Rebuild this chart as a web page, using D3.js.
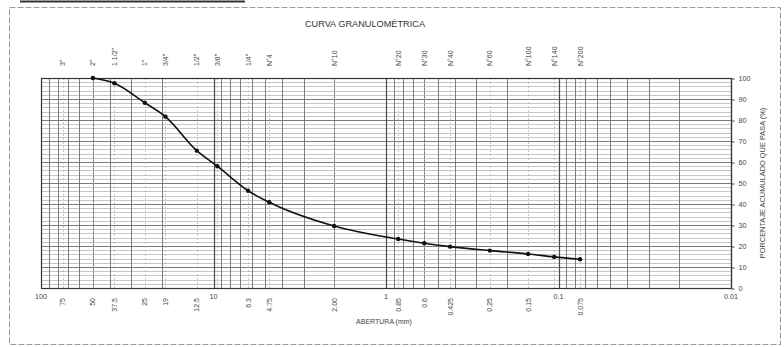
<!DOCTYPE html>
<html>
<head>
<meta charset="utf-8">
<script src="https://cdn.jsdelivr.net/npm/d3@7"></script>
<style>
  html, body { margin: 0; padding: 0; background: #fff; }
  svg { display: block; font-family: "Liberation Sans", Arial, sans-serif; }
</style>
</head>
<body>
<svg id="chart" width="784" height="347"></svg>
<script>
// Sieve series (ASTM) and the cumulative percentage passing each one
const sieveNames = ['3"', '2"', '1 1/2"', '1"', '3/4"', '1/2"', '3/8"', '1/4"', 'N°4', 'N°10',
                    'N°20', 'N°30', 'N°40', 'N°60', 'N°100', 'N°140', 'N°200'];
const sieveOpenings = [75, 50, 37.5, 25, 19, 12.5, 9.5, 6.3, 4.75, 2.00,
                       0.85, 0.6, 0.425, 0.25, 0.15, 0.106, 0.075];
const percentPassing = [null, 100, 97.5, 88.2, 81.6, 65.4, 58.0, 46.3, 40.8, 29.5,
                        23.3, 21.3, 19.7, 17.8, 16.2, 14.8, 13.7];

// Opening labels written under the axis
const openingTickValues = [75, 50, 37.5, 25, 19, 12.5, 6.3, 4.75, 2.00, 0.85, 0.6, 0.425, 0.25, 0.15, 0.075];
const openingTickText   = ['75', '50', '37.5', '25', '19', '12.5', '6.3', '4.75', '2.00', '0.85', '0.6', '0.425', '0.25', '0.15', '0.075'];
const decadeValues = [100, 10, 1, 0.1, 0.01];
const decadeText   = ['100', '10', '1', '0.1', '0.01'];
const percentTicks = [0, 10, 20, 30, 40, 50, 60, 70, 80, 90, 100];

const title = 'CURVA GRANULOMÉTRICA';
const xTitle = 'ABERTURA (mm)';
const yTitle = 'PORCENTAJE ACUMULADO QUE PASA (%)';

const svg = d3.select('#chart');
const plot = { left: 41, right: 731, top: 78, bottom: 288 };

const x = d3.scaleLog().domain([100, 0.01]).range([plot.left, plot.right]);
const y = d3.scaleLinear().domain([0, 100]).range([plot.bottom, plot.top]);

// Heading bar and dashed frame
svg.append('line').attr('x1', 20).attr('x2', 245).attr('y1', 1.5).attr('y2', 1.5)
  .attr('stroke', '#333').attr('stroke-width', 2);
svg.append('rect').attr('x', 9.5).attr('y', 7.5).attr('width', 771).attr('height', 337)
  .attr('fill', 'none').attr('stroke', '#9a9a9a').attr('stroke-width', 1)
  .attr('stroke-dasharray', '6,2');

svg.append('text').attr('x', 365).attr('y', 27).attr('text-anchor', 'middle')
  .attr('font-size', 9.2).attr('fill', '#333').text(title);

// Semi-log grid
const g = svg.append('g');
const hLines = d3.range(0, 101, 2);
g.selectAll('line.h').data(hLines).join('line')
  .attr('x1', plot.left).attr('x2', plot.right)
  .attr('y1', d => Math.round(y(d)) + 0.5).attr('y2', d => Math.round(y(d)) + 0.5)
  .attr('stroke', d => d % 10 === 0 ? '#7a7a7a' : '#b8b8b8')
  .attr('stroke-width', d => d % 10 === 0 ? 1 : 0.8);

const vValues = [];
[10, 1, 0.1, 0.01].forEach(dec => {
  for (let m = 1; m <= 9; m++) vValues.push(+(dec * m).toPrecision(3));
});
const isDecade = d => Math.abs(Math.log10(d) - Math.round(Math.log10(d))) < 1e-6;
g.selectAll('line.v').data(vValues.filter(v => v <= 100 && v >= 0.01)).join('line')
  .attr('x1', d => Math.round(x(d)) + 0.5).attr('x2', d => Math.round(x(d)) + 0.5)
  .attr('y1', plot.top).attr('y2', plot.bottom)
  .attr('stroke', d => isDecade(d) ? '#4a4a4a' : '#707070')
  .attr('stroke-width', d => isDecade(d) ? 1.2 : 0.9);

// Light marks at each sieve opening
g.selectAll('line.s').data(sieveOpenings).join('line')
  .attr('x1', d => Math.round(x(d)) + 0.5).attr('x2', d => Math.round(x(d)) + 0.5)
  .attr('y1', plot.top).attr('y2', plot.bottom)
  .attr('stroke', '#b0b0b0').attr('stroke-width', 0.7).attr('stroke-dasharray', '2,2');

// Plot frame
svg.append('rect').attr('x', plot.left + 0.5).attr('y', plot.top + 0.5)
  .attr('width', plot.right - plot.left).attr('height', plot.bottom - plot.top)
  .attr('fill', 'none').attr('stroke', '#333').attr('stroke-width', 1.2);

// Sieve names above the plot
svg.append('g').selectAll('text').data(sieveNames).join('text')
  .attr('transform', (d, i) => `translate(${x(sieveOpenings[i]) + 2.5},66) rotate(-90)`)
  .attr('text-anchor', 'start').attr('font-size', 7).attr('fill', '#444')
  .text(d => d);

// Bottom axis: decades horizontal, sieve openings rotated
svg.append('g').selectAll('text').data(decadeValues).join('text')
  .attr('x', d => x(d)).attr('y', 299).attr('text-anchor', 'middle')
  .attr('font-size', 7.2).attr('fill', '#444')
  .text((d, i) => decadeText[i]);

svg.append('g').selectAll('text').data(openingTickValues).join('text')
  .attr('transform', d => `translate(${x(d) + 2.5},298) rotate(-90)`)
  .attr('text-anchor', 'end').attr('font-size', 7).attr('fill', '#444')
  .text((d, i) => openingTickText[i]);

svg.append('text').attr('x', 384).attr('y', 324).attr('text-anchor', 'middle')
  .attr('font-size', 7).attr('fill', '#444').text(xTitle);

// Right axis
const yAxis = d3.axisRight(y).tickValues(percentTicks).tickSize(3).tickFormat(d3.format('d'));
const ya = svg.append('g').attr('transform', `translate(${plot.right + 0.5},0.5)`).call(yAxis);
ya.select('.domain').remove();
ya.selectAll('line').attr('stroke', '#444');
ya.selectAll('text').attr('font-size', 7.2).attr('fill', '#444')
  .attr('font-family', '"Liberation Sans", Arial, sans-serif').attr('x', 7);

svg.append('text').attr('transform', `translate(765,${y(50)}) rotate(-90)`)
  .attr('text-anchor', 'middle').attr('font-size', 7.4).attr('fill', '#444').text(yTitle);

// Grading curve
const pts = sieveOpenings.map((d, i) => ({ d, p: percentPassing[i] })).filter(o => o.p !== null);
const line = d3.line().x(o => x(o.d)).y(o => y(o.p)).curve(d3.curveMonotoneX);
svg.append('path').datum(pts).attr('d', line)
  .attr('fill', 'none').attr('stroke', '#111').attr('stroke-width', 1.6);
svg.append('g').selectAll('circle').data(pts).join('circle')
  .attr('cx', o => x(o.d)).attr('cy', o => y(o.p)).attr('r', 2.2).attr('fill', '#111');
</script>
</body>
</html>
